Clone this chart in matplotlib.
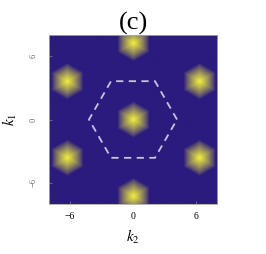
import numpy as np
import matplotlib.pyplot as plt
from matplotlib.colors import LinearSegmentedColormap

# bright spot centres (k2, k1) - hexagonal reciprocal lattice
spot_k2 = [0.0, 0.0, 0.0, -6.28, 6.28, -6.28, 6.28]
spot_k1 = [0.0, 7.26, -7.26, 3.63, 3.63, -3.63, -3.63]
spot_radius = 1.5

# Brillouin zone outline (k2, k1)
bz_k2 = [4.19, 2.09, -2.09, -4.19, -2.09, 2.09, 4.19]
bz_k1 = [0.0, 3.63, 3.63, 0.0, -3.63, -3.63, 0.0]

ticks = [-6, 0, 6]
lim = 8

# intensity map
k2, k1 = np.meshgrid(np.linspace(-lim, lim, 400), np.linspace(-lim, lim, 400))
field = np.zeros_like(k2)
for x0, y0 in zip(spot_k2, spot_k1):
    dx, dy = k2 - x0, k1 - y0
    d = np.maximum.reduce([np.abs(dx),
                           np.abs(0.5 * dx + np.sqrt(3) / 2 * dy),
                           np.abs(0.5 * dx - np.sqrt(3) / 2 * dy)])
    field += np.clip(1 - d / spot_radius, 0, 1) ** 0.8

cmap = LinearSegmentedColormap.from_list('navy_yellow', ['#2b1b7e', '#f2ef3e'])

plt.rcParams['font.family'] = 'Liberation Serif'
plt.rcParams['mathtext.fontset'] = 'stix'
fig = plt.figure(figsize=(2.66, 2.54), dpi=100)
ax = fig.add_axes([0.184, 0.197, 0.632, 0.665])
ax.imshow(field, extent=[-lim, lim, -lim, lim], origin='lower', cmap=cmap,
          vmin=0, vmax=1.0, interpolation='bilinear', aspect='auto')
ax.plot(bz_k2, bz_k1, color='#c9c3e3', linestyle='--', linewidth=1.3, dashes=(4, 3))
ax.set_xlim(-lim, lim)
ax.set_ylim(-lim, lim)
ax.set_xticks(ticks)
ax.set_yticks(ticks)
ax.set_xticklabels([f'{t}' if t >= 0 else f'\u2212{-t}' for t in ticks], fontsize=7)
ax.set_yticklabels([f'{t}' if t >= 0 else f'\u2212{-t}' for t in ticks], fontsize=6,
                   rotation=90, va='center', color='#666666')
ax.tick_params(direction='in', length=2, width=0.5, color='#888888')
ax.tick_params(axis='x', pad=6)
ax.tick_params(axis='y', pad=8)
for s in ax.spines.values():
    s.set_color('#aaaaaa')
    s.set_linewidth(0.6)
ax.set_xlabel('$k_2$', fontsize=11, labelpad=5)
ax.set_ylabel('$k_1$', fontsize=11, labelpad=8)
ax.set_title('(c)', fontsize=19, pad=0)

fig.savefig('out.png', dpi=100)
